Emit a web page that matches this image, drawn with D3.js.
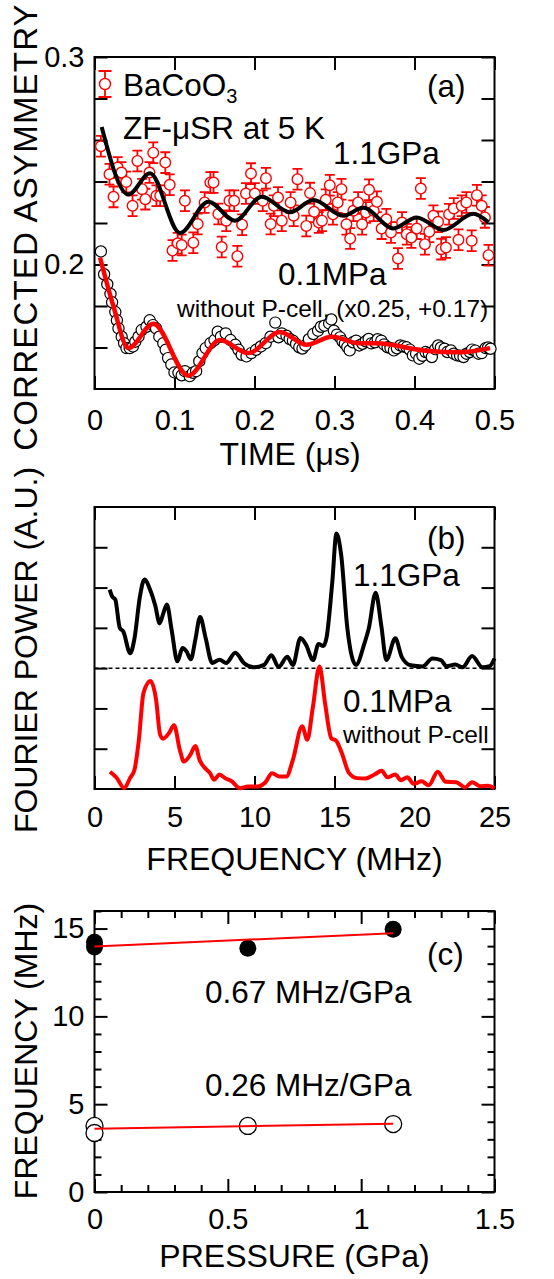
<!DOCTYPE html>
<html lang="en">
<head>
  <meta charset="utf-8">
  <title>BaCoO3 ZF-muSR under pressure</title>
  <script type="text/javascript" src="https://cdn.jsdelivr.net/npm/d3@7"></script>
  <style>
    body { margin: 0; background: #fff; }
    text { font-family: "Liberation Sans", Arial, Helvetica, sans-serif; }
  </style>
</head>
<body>
  <script type="text/javascript">

  // (a) asymmetry vs time, 1.1 GPa (red, with error bars)
  var hp_points = [
    [0.008,0.257],[0.0187,0.2435],[0.0238,0.2326],[0.029,0.2467],[0.0337,0.2443],[0.0397,0.2398],
    [0.0476,0.2283],[0.0536,0.2499],[0.0595,0.2363],[0.0635,0.2315],[0.0687,0.2443],[0.0734,0.2539],
    [0.0774,0.2331],[0.0821,0.2331],[0.0885,0.2491],[0.094,0.2384],[0.0975,0.2067],[0.104,0.2102],
    [0.109,0.2094],[0.113,0.2307],[0.1235,0.2105],[0.129,0.2195],[0.1377,0.2299],[0.1448,0.2395],
    [0.1488,0.2395],[0.1548,0.2243],[0.159,0.2084],[0.1647,0.2211],[0.1687,0.2307],[0.1746,0.2307],
    [0.1786,0.2040],[0.1845,0.2192],[0.1893,0.2342],[0.1956,0.2438],[0.2004,0.2342],[0.2103,0.2307],
    [0.2143,0.2416],[0.2202,0.2195],[0.2242,0.2283],[0.2294,0.2323],[0.2341,0.2211],[0.2451,0.2299],
    [0.249,0.2235],[0.2537,0.2411],[0.2647,0.2186],[0.2694,0.2344],[0.2745,0.2254],[0.2804,0.2202],
    [0.2843,0.2211],[0.289,0.2312],[0.2941,0.2382],[0.2981,0.2242],[0.304,0.2299],[0.3087,0.2363],
    [0.3149,0.2194],[0.3196,0.2125],[0.3236,0.2259],[0.3295,0.2299],[0.3345,0.2194],[0.3393,0.2251],
    [0.3432,0.236],[0.349,0.2259],[0.353,0.2302],[0.3589,0.2173],[0.3648,0.2218],[0.3706,0.2154],
    [0.3793,0.2029],[0.3844,0.2202],[0.3903,0.2146],[0.3961,0.213],[0.4028,0.2173],[0.4079,0.2366],
    [0.413,0.2098],[0.4185,0.2158],[0.4236,0.2235],[0.4295,0.2206],[0.4334,0.2074],[0.4393,0.2082],
    [0.4432,0.2242],[0.4491,0.227],[0.455,0.2119],[0.459,0.2283],[0.4648,0.2299],[0.4715,0.2114],
    [0.478,0.2334],[0.484,0.2283],[0.488,0.2227],[0.4925,0.2045]
  ];
  var hp_err = 0.005;

  var hp_fit = [
    [0.009,0.2663],[0.0423,0.2337],[0.0694,0.244],[0.1069,0.2152],[0.1423,0.2303],[0.1756,0.2211],
    [0.209,0.2327],[0.2444,0.2252],[0.2735,0.2311],[0.311,0.2235],[0.336,0.2273],[0.3735,0.2174],
    [0.4027,0.2227],[0.436,0.2166],[0.4735,0.2244],[0.4923,0.2203]
  ];

  // (a) 0.1 MPa, without pressure cell (open black circles, red fit)
  var lp_points = [
    [0.008,0.2063],[0.012,0.1953],[0.016,0.1905],[0.020,0.1858],[0.022,0.1818],[0.026,0.1771],
    [0.028,0.1731],[0.030,0.1692],[0.034,0.1652],[0.037,0.1621],[0.040,0.1597],[0.044,0.1597],
    [0.048,0.1605],[0.051,0.1628],[0.055,0.1652],[0.059,0.1684],[0.065,0.1700],[0.069,0.1731],
    [0.073,0.1708],[0.077,0.1692],[0.081,0.1652],[0.086,0.1621],[0.089,0.1589],[0.092,0.1549],
    [0.096,0.1518],[0.100,0.1480],[0.105,0.1478],[0.109,0.1466],[0.113,0.1486],[0.119,0.1462],
    [0.123,0.1478],[0.127,0.1486],[0.131,0.1534],[0.135,0.1573],[0.139,0.1597],[0.145,0.1621],
    [0.150,0.1636],[0.154,0.1676],[0.158,0.1652],[0.164,0.1668],[0.170,0.1636],[0.176,0.1613],
    [0.180,0.1589],[0.184,0.1565],[0.190,0.1557],[0.196,0.1573],[0.202,0.1589],[0.208,0.1605],
    [0.214,0.1621],[0.220,0.1652],[0.226,0.172],[0.230,0.1649],[0.234,0.1668],[0.240,0.1657],
    [0.244,0.1641],[0.248,0.1633],[0.252,0.1617],[0.256,0.1601],[0.260,0.1595],[0.2636,0.161],
    [0.268,0.1640],[0.2735,0.1665],[0.2794,0.1681],[0.283,0.1700],[0.2874,0.1705],[0.2933,0.1716],
    [0.296,0.1735],[0.2992,0.1681],[0.303,0.1662],[0.307,0.1649],[0.310,0.1630],[0.313,0.1618],
    [0.316,0.1602],[0.319,0.1586],[0.323,0.1625],[0.327,0.1633],[0.331,0.1610],[0.335,0.1618],
    [0.339,0.1630],[0.3427,0.1641],[0.346,0.1620],[0.3506,0.1625],[0.354,0.1640],[0.3585,0.1633],
    [0.362,0.1615],[0.3664,0.1601],[0.370,0.1598],[0.3743,0.1586],[0.378,0.1596],[0.3822,0.161],
    [0.386,0.1605],[0.3901,0.1601],[0.394,0.1590],[0.398,0.1562],[0.402,0.1570],[0.406,0.1546],
    [0.410,0.1560],[0.4138,0.1578],[0.418,0.1572],[0.4217,0.1554],[0.426,0.1592],[0.4296,0.161],
    [0.433,0.1600],[0.4375,0.1594],[0.441,0.1578],[0.4454,0.1586],[0.449,0.1570],[0.4533,0.1562],
    [0.457,0.1560],[0.4613,0.1554],[0.465,0.1570],[0.4692,0.1578],[0.472,0.1590],[0.476,0.1585],
    [0.480,0.1570],[0.484,0.1573],[0.489,0.1597],[0.492,0.1600],[0.495,0.1594]
  ];

  var lp_fit = [
    [0.0069,0.2034],[0.0236,0.180],[0.0423,0.1597],[0.0735,0.1714],[0.1173,0.1464],[0.1569,0.1636],
    [0.1923,0.1573],[0.2319,0.1675],[0.2652,0.1613],[0.2965,0.1652],[0.3319,0.162],[0.3527,0.162],
    [0.411,0.1586],[0.4569,0.1577],[0.4944,0.1597]
  ];

  // (b) Fourier power vs frequency (MHz); 1.1 GPa curve is offset by 3
  var fft_hp = [
    [0.95,4.95],[1.1,4.78],[1.3,4.7],[1.58,4.0],[1.8,3.91],[2.23,3.37],[2.5,3.74],[2.84,4.78],
    [3.12,5.2],[3.5,4.92],[3.8,4.55],[4.07,4.11],[4.3,4.36],[4.52,4.58],[4.82,3.95],[5.18,3.17],
    [5.5,3.5],[5.76,3.41],[6.02,3.22],[6.3,3.7],[6.6,4.27],[6.95,3.74],[7.35,3.13],[7.82,3.21],
    [8.23,3.13],[8.8,3.38],[9.35,3.12],[9.95,3.02],[10.6,3.08],[11.06,3.32],[11.5,3.03],[12.05,3.28],
    [12.4,3.08],[12.87,3.75],[13.22,3.58],[13.66,3.2],[14.0,3.6],[14.3,3.55],[14.5,3.75],[14.86,5.13],
    [15.12,6.34],[15.42,5.8],[15.8,4.0],[16.34,3.08],[16.86,3.6],[17.15,4.0],[17.57,4.87],[17.93,4.04],
    [18.24,3.2],[18.8,3.74],[19.2,3.28],[19.76,3.07],[20.5,3.04],[21.12,3.24],[21.65,3.2],[22.0,3.05],
    [22.55,3.09],[23.0,3.02],[23.6,3.3],[24.25,3.02],[24.7,3.05],[25.0,3.24]
  ];
  var fft_lp = [
    [0.97,0.43],[1.38,0.28],[1.86,0.02],[2.22,0.27],[2.5,0.48],[2.77,1.21],[3.06,2.38],[3.5,2.68],
    [3.85,2.21],[4.1,1.35],[4.29,1.25],[4.64,1.38],[4.97,1.58],[5.34,0.96],[5.59,0.68],[5.99,0.85],
    [6.3,1.07],[6.58,0.71],[6.86,0.54],[7.21,0.4],[7.48,0.23],[7.8,0.36],[8.2,0.26],[8.55,0.2],
    [9.1,0.02],[9.58,0.06],[10.2,0.06],[10.67,0.16],[11.1,0.39],[11.56,0.31],[11.99,0.31],[12.39,0.71],
    [12.98,1.56],[13.3,1.22],[13.65,2.04],[14.06,3.04],[14.42,2.1],[14.8,1.26],[15.1,1.2],[15.45,0.9],
    [15.9,0.4],[16.4,0.27],[16.95,0.26],[17.5,0.36],[17.95,0.45],[18.3,0.29],[18.8,0.36],[19.15,0.22],
    [19.55,0.29],[19.95,0.13],[20.45,0.19],[20.89,0.09],[21.45,0.43],[21.95,0.18],[22.6,0.17],[23.16,0.04],
    [23.6,0.17],[24.1,0.07],[24.6,0.08],[25.0,0.02]
  ];
  var fft_baseline = 3;

  // (c) frequencies vs pressure (GPa)
  var freq_high = [[0, 14.22], [0, 13.95], [0.575, 13.88], [1.12, 14.96]];
  var freq_low = [[0, 3.76], [0, 3.36], [0.575, 3.76], [1.12, 3.87]];
  var fit_high = [[0, 13.98], [1.12, 14.73]];
  var fit_low = [[0, 3.6], [1.12, 3.89]];

  var width = 554;
  var height = 1279;
  var left = 94.5, right = 494.5;
  var red = "#ff0000";
  var fs = 31.5;   // in-plot labels
  var fsTitle = 32;

  var svg = d3.select("body").append("svg")
    .attr("width", width)
    .attr("height", height)
    .attr("viewBox", [0, 0, width, height]);

  svg.append("rect").attr("width", width).attr("height", height).attr("fill", "#fff");

  var xa = d3.scaleLinear([0, 0.5], [left, right]);
  var ya = d3.scaleLinear([0.14, 0.3], [389, 57]);
  var xb = d3.scaleLinear([0, 25], [left, right]);
  var yb = d3.scaleLinear([0, 7], [789, 507]);
  var xc = d3.scaleLinear([0, 1.5], [left, right]);
  var yc = d3.scaleLinear([0, 16], [1192, 911]);

  // frame with inward ticks; labels only where asked
  function axes(x, y, o) {
    var g = svg.append("g");
    var x0 = x.range()[0], x1 = x.range()[1], y0 = y.range()[0], y1 = y.range()[1];

    function put(axis, tx, ty, labels) {
      var a = g.append("g").attr("transform", `translate(${tx},${ty})`).call(axis);
      a.select(".domain").remove();
      a.selectAll("line").attr("stroke", "#000").attr("stroke-width", 2);
      a.selectAll("text").attr("font-size", 29).attr("fill", "#000")
        .attr("font-family", '"Liberation Sans", Arial, sans-serif');
      if (!labels) a.selectAll("text").remove();
    }

    o.xTicks.forEach(t => {
      put(d3.axisBottom(x).tickValues(t.v).tickSize(-t.len).tickSizeOuter(0).tickPadding(o.xPad)
        .tickFormat(t.fmt || (() => "")), 0, y0, !!t.fmt);
      put(d3.axisTop(x).tickValues(t.v).tickSize(-t.len).tickSizeOuter(0).tickFormat(() => ""), 0, y1, false);
    });
    o.yTicks.forEach(t => {
      put(d3.axisLeft(y).tickValues(t.v).tickSize(-t.len).tickSizeOuter(0).tickPadding(10)
        .tickFormat(t.fmt || (() => "")), x0, 0, !!t.fmt);
      put(d3.axisRight(y).tickValues(t.v).tickSize(-t.len).tickSizeOuter(0).tickFormat(() => ""), x1, 0, false);
    });

    g.append("rect")
      .attr("x", x0).attr("y", y1)
      .attr("width", x1 - x0).attr("height", y0 - y1)
      .attr("fill", "none").attr("stroke", "#000").attr("stroke-width", 2);
  }

  function label(txt, x, y, size, anchor) {
    return svg.append("text")
      .attr("x", x).attr("y", y)
      .attr("font-size", size)
      .attr("text-anchor", anchor || "start")
      .text(txt);
  }

  function vlabel(txt, cy) {
    return svg.append("text")
      .attr("transform", `translate(37,${cy}) rotate(-90)`)
      .attr("font-size", fsTitle)
      .attr("text-anchor", "middle")
      .text(txt);
  }

  // ---------- (a) ----------
  axes(xa, ya, {
    xPad: 20,
    xTicks: [{ v: [0, 0.1, 0.2, 0.3, 0.4, 0.5], len: 13, fmt: d3.format("") }],
    yTicks: [
      { v: [0.16, 0.18, 0.22, 0.24, 0.26, 0.28], len: 13 },
      { v: [0.2, 0.3], len: 13, fmt: d3.format(".1f") }
    ]
  });

  var hp = svg.append("g").attr("stroke", red).attr("stroke-width", 1.8).attr("fill", "none");
  hp.selectAll(".bar").data(hp_points).join("path")
    .attr("d", d => {
      var cx = xa(d[0]), t = ya(d[1] + hp_err), b = ya(d[1] - hp_err);
      return `M${cx},${t}V${b}M${cx - 5},${t}H${cx + 5}M${cx - 5},${b}H${cx + 5}`;
    });
  hp.selectAll("circle").data(hp_points).join("circle")
    .attr("cx", d => xa(d[0])).attr("cy", d => ya(d[1])).attr("r", 5.3)
    .attr("fill", "#fff").attr("stroke-width", 1.4);

  svg.append("path").datum(hp_fit)
    .attr("fill", "none").attr("stroke", "#000").attr("stroke-width", 4)
    .attr("d", d3.line().x(d => xa(d[0])).y(d => ya(d[1])).curve(d3.curveMonotoneX));

  svg.append("g").selectAll("circle").data(lp_points).join("circle")
    .attr("cx", d => xa(d[0])).attr("cy", d => ya(d[1])).attr("r", 5.6)
    .attr("fill", "#fff").attr("stroke", "#000").attr("stroke-width", 1.2);

  svg.append("path").datum(lp_fit)
    .attr("fill", "none").attr("stroke", red).attr("stroke-width", 4.5)
    .attr("d", d3.line().x(d => xa(d[0])).y(d => ya(d[1])).curve(d3.curveMonotoneX));

  // legend marker
  var lg = svg.append("g").attr("stroke", red).attr("stroke-width", 1.8).attr("fill", "none");
  lg.append("path").attr("d", "M105,71V97M98.5,71H111.5M98.5,97H111.5");
  lg.append("circle").attr("cx", 105).attr("cy", 84).attr("r", 5.5).attr("fill", "#fff").attr("stroke-width", 1.4);

  var bc = label("BaCoO", 123, 96, fs);
  bc.append("tspan").attr("font-size", 20).attr("dy", 7).text("3");
  label("(a)", 427, 97, fs);
  label("ZF-\u03bcSR at 5 K", 123, 139, fs);
  label("1.1GPa", 333, 164, fs);
  label("0.1MPa", 278, 285, fs);
  label("without P-cell, (x0.25, +0.17)", 177, 317, 24.5);
  label("TIME (\u03bcs)", 290, 465, fsTitle, "middle");
  vlabel("CORRECTED ASYMMETRY", 227).attr("font-size", 33).attr("letter-spacing", 1.2);

  // ---------- (b) ----------
  axes(xb, yb, {
    xPad: 17,
    xTicks: [{ v: [0, 5, 10, 15, 20, 25], len: 13, fmt: d3.format("") }],
    yTicks: [{ v: [1, 2, 3, 4, 5, 6], len: 13 }]
  });

  svg.append("line")
    .attr("x1", left).attr("x2", right)
    .attr("y1", yb(fft_baseline)).attr("y2", yb(fft_baseline))
    .attr("stroke", "#000").attr("stroke-width", 1.5).attr("stroke-dasharray", "4,3");

  var fline = d3.line().x(d => xb(d[0])).y(d => yb(d[1])).curve(d3.curveMonotoneX);
  svg.append("path").datum(fft_hp)
    .attr("fill", "none").attr("stroke", "#000").attr("stroke-width", 4)
    .attr("stroke-linejoin", "round").attr("d", fline);
  svg.append("path").datum(fft_lp)
    .attr("fill", "none").attr("stroke", red).attr("stroke-width", 4)
    .attr("stroke-linejoin", "round").attr("d", fline);

  label("(b)", 427, 549, fs);
  label("1.1GPa", 353, 586, fs);
  label("0.1MPa", 343, 712, fs);
  label("without P-cell", 343, 743, 24.5);
  label("FREQUENCY (MHz)", 294.5, 870, fsTitle, "middle");
  vlabel("FOURIER POWER (A.U.)", 650);

  // ---------- (c) ----------
  axes(xc, yc, {
    xPad: 16,
    xTicks: [
      { v: [0.1, 0.2, 0.3, 0.4, 0.6, 0.7, 0.8, 0.9, 1.1, 1.2, 1.3, 1.4], len: 7 },
      { v: [0, 0.5, 1, 1.5], len: 13, fmt: d3.format("") }
    ],
    yTicks: [
      { v: [1, 2, 3, 4, 6, 7, 8, 9, 11, 12, 13, 14, 16], len: 7 },
      { v: [0, 5, 10, 15], len: 13, fmt: d3.format("") }
    ]
  });

  svg.append("g").selectAll("circle").data(freq_high).join("circle")
    .attr("cx", d => xc(d[0])).attr("cy", d => yc(d[1])).attr("r", 8.5)
    .attr("fill", "#000");
  svg.append("g").selectAll("circle").data(freq_low).join("circle")
    .attr("cx", d => xc(d[0])).attr("cy", d => yc(d[1])).attr("r", 8.5)
    .attr("fill", "#fff").attr("stroke", "#000").attr("stroke-width", 1.3);

  var cline = d3.line().x(d => xc(d[0])).y(d => yc(d[1]));
  [fit_high, fit_low].forEach(f => {
    svg.append("path").datum(f)
      .attr("fill", "none").attr("stroke", red).attr("stroke-width", 2).attr("d", cline);
  });

  label("(c)", 427, 965, fs);
  label("0.67 MHz/GPa", 205, 1003, fs);
  label("0.26 MHz/GPa", 205, 1096, fs);
  label("PRESSURE (GPa)", 294.5, 1267, fsTitle, "middle");
  vlabel("FREQUENCY (MHz)", 1051);

  </script>
</body>
</html>
